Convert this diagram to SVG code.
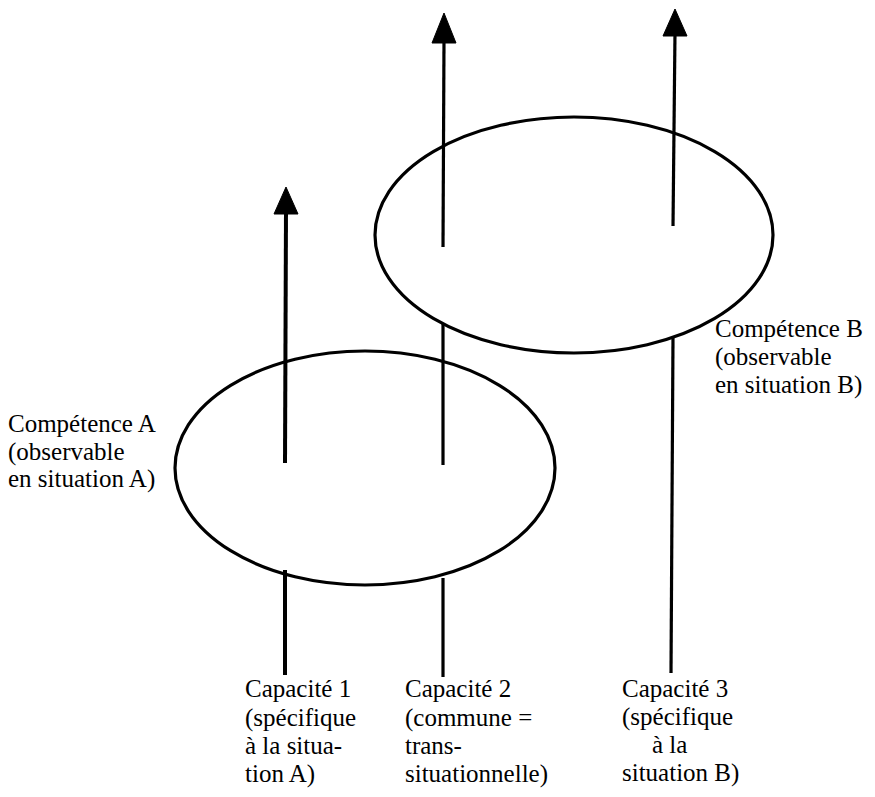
<svg xmlns="http://www.w3.org/2000/svg" width="875" height="797" viewBox="0 0 875 797">
<style>
.ell{fill:none;stroke:#000;stroke-width:3.2}
.ln{stroke:#000;stroke-width:3.2;fill:none}
.ah{fill:#000;stroke:#000;stroke-width:1;stroke-linejoin:round}
.t{font-size:25px;fill:#000}
</style>
<rect width="875" height="797" fill="#fff"/>
<g font-family="Liberation Serif, Tinos, Times New Roman, DejaVu Serif, serif">
<g id="competenceA">
<ellipse class="ell" cx="365" cy="468" rx="190" ry="117"/>
<text class="t" x="8" y="432">Compétence A</text>
<text class="t" x="8" y="460">(observable</text>
<text class="t" x="8" y="487">en situation A)</text>
</g>
<g id="competenceB">
<ellipse class="ell" cx="574" cy="235" rx="199" ry="118"/>
<text class="t" x="715" y="337">Compétence B</text>
<text class="t" x="715" y="365">(observable</text>
<text class="t" x="715" y="393">en situation B)</text>
</g>
<g id="capacite1">
<text class="t" x="245" y="697">Capacité 1</text>
<text class="t" x="245" y="726">(spécifique</text>
<text class="t" x="245" y="754">à la situa-</text>
<text class="t" x="245" y="782">tion A)</text>
</g>
<g id="capacite2">
<text class="t" x="405" y="697">Capacité 2</text>
<text class="t" x="405" y="726">(commune =</text>
<text class="t" x="405" y="754">trans-</text>
<text class="t" x="405" y="782">situationnelle)</text>
</g>
<g id="capacite3">
<text class="t" x="622" y="697">Capacité 3</text>
<text class="t" x="622" y="725">(spécifique</text>
<text class="t" x="652" y="753">à la</text>
<text class="t" x="622" y="781">situation B)</text>
</g>
</g>
<g id="connectors">
<line class="ln" x1="285" y1="675" x2="285" y2="570" style="stroke-width:4"/>
<line class="ln" x1="285" y1="463" x2="286" y2="210" style="stroke-width:4"/>
<polygon class="ah" points="286,187 298,214 274,214"/>
<line class="ln" x1="443" y1="677" x2="443" y2="578"/>
<line class="ln" x1="443" y1="465" x2="443" y2="323"/>
<line class="ln" x1="443" y1="247" x2="444" y2="40"/>
<polygon class="ah" points="444,13 456,43 432,43"/>
<line class="ln" x1="671" y1="673" x2="673" y2="337"/>
<line class="ln" x1="673" y1="226" x2="675" y2="32"/>
<polygon class="ah" points="675,9 687,36 663,36"/>
</g>
</svg>
